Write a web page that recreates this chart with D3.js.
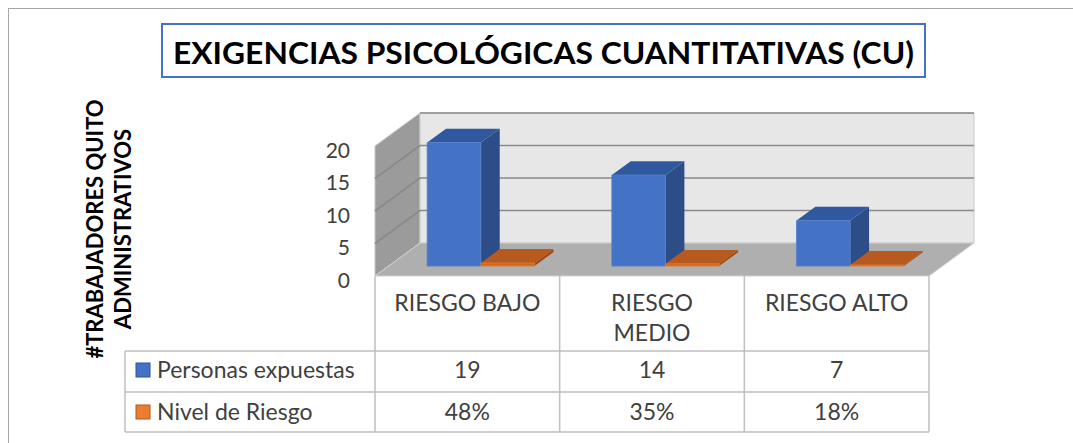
<!DOCTYPE html>
<html>
<head>
<meta charset="utf-8">
<script src="https://cdn.jsdelivr.net/npm/d3@7"></script>
<style>
  body { margin: 0; background: #fff; }
  text { font-family: Lato, "Open Sans", sans-serif; }
</style>
</head>
<body>
<script>
// data
var categories = [["RIESGO BAJO"], ["RIESGO", "MEDIO"], ["RIESGO ALTO"]];
var seriesNames = ["Personas expuestas", "Nivel de Riesgo"];
var personas = [19, 14, 7];
var nivel = [0.48, 0.35, 0.18];
var nivelText = ["48%", "35%", "18%"];
var yTicks = [0, 5, 10, 15, 20];

var width = 1073, height = 443;
var depthX = 45, depthY = -33;   // oblique offset of the back plane
var z0 = 0.3, z1 = 0.72;         // depth span of the columns

var shades = [
    { front: "#4472C4", side: "#2C4D88", top: "#30589E", key: "#4472C4", keyStroke: "#2F5597" },
    { front: "#D2691E", side: "#A04A12", top: "#B65A1F", key: "#ED7D31", keyStroke: "#AE5A21" }
];

var svg = d3.select("body").append("svg")
    .attr("width", width)
    .attr("height", height);

// outer frame
svg.append("rect")
    .attr("x", 8.5).attr("y", 8.5)
    .attr("width", width).attr("height", height)
    .style("fill", "#fff")
    .style("stroke", "#a6a6a6");

// title
svg.append("rect")
    .attr("x", 162).attr("y", 24)
    .attr("width", 763).attr("height", 53)
    .style("fill", "#fff")
    .style("stroke", "#4472C4")
    .style("stroke-width", 2);

svg.append("text")
    .attr("x", 543.5).attr("y", 64)
    .attr("text-anchor", "middle")
    .attr("textLength", 741)
    .attr("lengthAdjust", "spacingAndGlyphs")
    .style("font-size", "31px")
    .style("font-weight", "bold")
    .style("fill", "#000")
    .text("EXIGENCIAS PSICOLÓGICAS CUANTITATIVAS (CU)");

// scales
var x = d3.scaleBand().domain(d3.range(categories.length)).range([375, 929]);
var xs = d3.scaleBand().domain(d3.range(seriesNames.length)).range([0, x.bandwidth()]).paddingOuter(0.72);
var y = d3.scaleLinear().domain([0, 20]).range([276, 146]);
var xa = x.range()[0], xb = x.range()[1];

function p(px, v, z) { return [px + z * depthX, y(v) + z * depthY]; }
function poly(pts) { return "M" + pts.map(function (d) { return d.join(","); }).join("L") + "Z"; }

// walls and floor
svg.append("path")
    .attr("d", poly([p(xa, 0, 0), p(xa, 20, 0), p(xa, 20, 1), p(xa, 0, 1)]))
    .attr("fill", "#9b9b9b").attr("stroke", "#c8c8c8");
svg.append("path")
    .attr("d", poly([p(xa, 0, 1), p(xa, 20, 1), p(xb, 20, 1), p(xb, 0, 1)]))
    .attr("fill", "#e7e7e7").attr("stroke", "#c8c8c8");
svg.append("path")
    .attr("d", poly([p(xa, 0, 0), p(xb, 0, 0), p(xb, 0, 1), p(xa, 0, 1)]))
    .attr("fill", "#afafaf").attr("stroke", "#d0d0d0");

// gridlines on back and side walls
var grid = svg.append("g").attr("stroke", "#8a8a8a").attr("stroke-width", 1.6);
grid.selectAll("line.back")
    .data(yTicks.slice(1))
    .enter().append("line")
    .attr("class", "back")
    .attr("x1", function (d) { return p(xa, d, 1)[0]; })
    .attr("y1", function (d) { return p(xa, d, 1)[1]; })
    .attr("x2", function (d) { return p(xb, d, 1)[0]; })
    .attr("y2", function (d) { return p(xb, d, 1)[1]; });
grid.selectAll("line.side")
    .data(yTicks.slice(1, -1))
    .enter().append("line")
    .attr("class", "side")
    .attr("x1", function (d) { return p(xa, d, 0)[0]; })
    .attr("y1", function (d) { return p(xa, d, 0)[1]; })
    .attr("x2", function (d) { return p(xa, d, 1)[0]; })
    .attr("y2", function (d) { return p(xa, d, 1)[1]; });

// y tick labels
svg.selectAll("text.tick")
    .data(yTicks)
    .enter().append("text")
    .attr("class", "tick")
    .attr("x", 350)
    .attr("y", function (d) { return y(d) + 3; })
    .attr("text-anchor", "end")
    .attr("dominant-baseline", "central")
    .style("font-size", "21px")
    .style("fill", "#404040")
    .text(function (d) { return d; });

// y axis title
var yTitle = ["#TRABAJADORES QUITO", "ADMINISTRATIVOS"];
svg.selectAll("text.ytitle")
    .data(yTitle)
    .enter().append("text")
    .attr("class", "ytitle")
    .attr("transform", function (d, i) { return "translate(" + (103 + i * 28) + ",229) rotate(-90)"; })
    .attr("text-anchor", "middle")
    .style("font-size", "22px")
    .style("font-weight", "bold")
    .style("fill", "#000")
    .text(function (d) { return d; });

// 3d columns
var cols = [];
categories.forEach(function (c, i) {
    [personas[i], nivel[i]].forEach(function (v, s) {
        cols.push({ i: i, s: s, v: v });
    });
});

var bars = svg.selectAll("g.col")
    .data(cols)
    .enter().append("g")
    .attr("class", "col");

bars.append("path")
    .attr("d", function (d) {
        var a = x(d.i) + xs(d.s), b = a + xs.bandwidth();
        return poly([p(b, 0, z0), p(b, d.v, z0), p(b, d.v, z1), p(b, 0, z1)]);
    })
    .attr("fill", function (d) { return shades[d.s].side; });
bars.append("path")
    .attr("d", function (d) {
        var a = x(d.i) + xs(d.s), b = a + xs.bandwidth();
        return poly([p(a, d.v, z0), p(b, d.v, z0), p(b, d.v, z1), p(a, d.v, z1)]);
    })
    .attr("fill", function (d) { return shades[d.s].top; });
bars.append("path")
    .attr("d", function (d) {
        var a = x(d.i) + xs(d.s), b = a + xs.bandwidth();
        return poly([p(a, 0, z0), p(a, d.v, z0), p(b, d.v, z0), p(b, 0, z0)]);
    })
    .attr("fill", function (d) { return shades[d.s].front; })
    .attr("stroke", function (d) { return d.s === 0 ? "#5580cc" : "#e07a30"; })
    .attr("stroke-width", 0.8);

// data table
var rowTop = 351, rowMid = 392, rowBot = 432, legLeft = 125;
var tbl = svg.append("g").attr("stroke", "#bfbfbf").attr("stroke-width", 1.5);
var edges = x.domain().map(function (d) { return x(d); }).concat([xb]);
tbl.selectAll("line.v")
    .data(edges)
    .enter().append("line")
    .attr("class", "v")
    .attr("x1", function (d) { return d; }).attr("x2", function (d) { return d; })
    .attr("y1", y(0)).attr("y2", rowBot);
tbl.append("line").attr("x1", legLeft).attr("x2", legLeft).attr("y1", rowTop).attr("y2", rowBot);
tbl.selectAll("line.h")
    .data([rowTop, rowMid, rowBot])
    .enter().append("line")
    .attr("class", "h")
    .attr("x1", legLeft).attr("x2", xb)
    .attr("y1", function (d) { return d; }).attr("y2", function (d) { return d; });

// category labels
svg.selectAll("text.cat")
    .data(categories)
    .enter().append("text")
    .attr("class", "cat")
    .attr("text-anchor", "middle")
    .style("font-size", "23px")
    .style("fill", "#404040")
    .each(function (lines, i) {
        d3.select(this).selectAll("tspan")
            .data(lines)
            .enter().append("tspan")
            .attr("x", x(i) + x.bandwidth() / 2)
            .attr("y", function (d, k) { return 311 + k * 30; })
            .text(function (d) { return d; });
    });

// legend keys and series rows
var rows = [
    { name: seriesNames[0], vals: personas.map(String), base: 378, top: 363 },
    { name: seriesNames[1], vals: nivelText, base: 420, top: 405 }
];
rows.forEach(function (r, s) {
    svg.append("rect")
        .attr("x", 136).attr("y", r.top)
        .attr("width", 14).attr("height", 14)
        .attr("fill", shades[s].key)
        .attr("stroke", shades[s].keyStroke);
    svg.append("text")
        .attr("x", 157).attr("y", r.base)
        .style("font-size", "23px")
        .style("fill", "#404040")
        .text(r.name);
    svg.selectAll("text.val" + s)
        .data(r.vals)
        .enter().append("text")
        .attr("class", "val" + s)
        .attr("x", function (d, i) { return x(i) + x.bandwidth() / 2; })
        .attr("y", r.base)
        .attr("text-anchor", "middle")
        .style("font-size", "23px")
        .style("fill", "#404040")
        .text(function (d) { return d; });
});
</script>
</body>
</html>
